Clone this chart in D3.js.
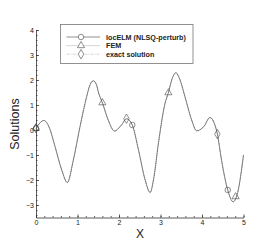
<!DOCTYPE html>
<html>
<head>
<meta charset="utf-8">
<script src="https://cdn.jsdelivr.net/npm/d3@7"></script>
<style>
  body { margin: 0; background: #fff; }
  svg text { font-family: "Liberation Sans", Arial, sans-serif; }
</style>
</head>
<body>
<div id="chart"></div>
<script>
// curve samples (x, solution value)
var xValues = [0, 0.19, 0.32, 0.46, 0.62, 0.755, 0.9, 1.06, 1.22, 1.3, 1.38, 1.46, 1.5, 1.6, 1.74, 1.89, 2.06, 2.18,
  2.32, 2.47, 2.63, 2.75, 2.84, 2.95, 3.11, 3.19, 3.28, 3.37, 3.46, 3.59, 3.75, 3.87, 4.05, 4.19, 4.3, 4.37, 4.47,
  4.62, 4.75, 4.86, 5.0];
var exactValues = [0.07, 0.38, 0.1, -0.67, -1.6, -2.1, -1.2, 0.13, 1.33, 1.8, 1.97, 1.8, 1.53, 1.09, 0.4, -0.04, 0.2, 0.45,
  0.2, -0.8, -2.0, -2.5, -1.9, -0.53, 1.07, 1.49, 2.05, 2.29, 2.05, 1.33, 0.4, -0.03, 0.15, 0.5, 0.25, -0.16, -1.2,
  -2.4, -2.87, -2.5, -1.0];
var locElmValues = exactValues.slice();
var femValues = exactValues.slice();

// where the markers sit along each series
var locElmMarkX = [0, 2.32, 4.62];
var femMarkX = [0, 1.6, 3.19, 4.81];
var exactMarkX = [0, 2.18, 4.37];

var xTicks = [0, 1, 2, 3, 4, 5];
var yTicks = [-3, -2, -1, 0, 1, 2, 3, 4];
var legendLabels = ["locELM (NLSQ-perturb)", "FEM", "exact solution"];

var svgWidth = 277;
var svgHeight = 246;

var svg = d3.select("#chart")
  .append("svg")
  .attr("width", svgWidth)
  .attr("height", svgHeight);

var xScale = d3.scaleLinear()
  .domain([0, 5])
  .range([36, 243.5]);

var yScale = d3.scaleLinear()
  .domain([-3.5, 4])
  .range([217.5, 30]);

// minor ticks first, then major ones
function minorTicks(lo, hi, step) {
  var t = [];
  for (var v = lo; v <= hi + 1e-9; v += step) t.push(+v.toFixed(2));
  return t;
}

svg.append("g")
  .attr("transform", "translate(0,217.5)")
  .call(d3.axisBottom(xScale).tickValues(minorTicks(0, 5, 0.2)).tickSizeInner(-1.5).tickSizeOuter(0).tickFormat(""))
  .call(g => g.select(".domain").remove());

svg.append("g")
  .attr("transform", "translate(36,0)")
  .call(d3.axisLeft(yScale).tickValues(minorTicks(-3.4, 4, 0.2)).tickSizeInner(-1.5).tickSizeOuter(0).tickFormat(""))
  .call(g => g.select(".domain").remove());

var xAxis = svg.append("g")
  .attr("transform", "translate(0,217.5)")
  .call(d3.axisBottom(xScale).tickValues(xTicks).tickSizeInner(-3).tickSizeOuter(0).tickPadding(3).tickFormat(d3.format("d")));

var yAxis = svg.append("g")
  .attr("transform", "translate(36,0)")
  .call(d3.axisLeft(yScale).tickValues(yTicks).tickSizeInner(-3).tickSizeOuter(0).tickPadding(2).tickFormat(d3.format("d")));

svg.selectAll(".tick text")
  .attr("font-size", 7)
  .attr("font-family", "Liberation Sans, Arial, sans-serif")
  .attr("fill", "#222");
svg.selectAll(".domain, .tick line")
  .attr("stroke", "#333")
  .attr("stroke-width", 0.8);

// curves
function series(values) {
  return xValues.map((x, i) => ({ x: x, y: values[i] }));
}
var line = d3.line()
  .x(d => xScale(d.x))
  .y(d => yScale(d.y))
  .curve(d3.curveMonotoneX);

var exactData = series(exactValues);
var femData = series(femValues);
var locData = series(locElmValues);

svg.append("path").datum(exactData).attr("d", line)
  .attr("fill", "none").attr("stroke", "#bbb").attr("stroke-width", 0.5).attr("stroke-dasharray", "3,1,1,1");
svg.append("path").datum(femData).attr("d", line)
  .attr("fill", "none").attr("stroke", "#777").attr("stroke-width", 0.5).attr("stroke-dasharray", "1,1");
svg.append("path").datum(locData).attr("d", line)
  .attr("fill", "none").attr("stroke", "#444").attr("stroke-width", 0.6);

// read a y value on the sampled curve
function valueAt(vals, x) {
  var i = d3.bisectLeft(xValues, x);
  if (i <= 0) return vals[0];
  if (i >= xValues.length) return vals[vals.length - 1];
  var t = (x - xValues[i - 1]) / (xValues[i] - xValues[i - 1]);
  return vals[i - 1] + t * (vals[i] - vals[i - 1]);
}

var circleSym = d3.symbol().type(d3.symbolCircle).size(24);
var triSym = d3.symbol().type(d3.symbolTriangle).size(22);
var diaSym = d3.symbol().type(d3.symbolDiamond).size(26);

function drawMarks(xs, vals, sym) {
  svg.append("g").selectAll("path")
    .data(xs)
    .enter()
    .append("path")
    .attr("d", sym)
    .attr("transform", d => `translate(${xScale(d)},${yScale(valueAt(vals, d))})`)
    .attr("fill", "none")
    .attr("stroke", "#444")
    .attr("stroke-width", 0.6);
}
drawMarks(exactMarkX, exactValues, diaSym);
drawMarks(femMarkX, femValues, triSym);
drawMarks(locElmMarkX, locElmValues, circleSym);

// legend
var legend = svg.append("g");
legend.append("rect")
  .attr("x", 60.5).attr("y", 24.5)
  .attr("width", 132.5).attr("height", 39)
  .attr("fill", "#fff").attr("stroke", "#777").attr("stroke-width", 0.8);

var legendSyms = [circleSym, triSym, diaSym];
var legendDash = [null, "1,1", "3,1,1,1"];
var legendStroke = ["#444", "#777", "#bbb"];
legendLabels.forEach(function(label, i) {
  var y = 37 + i * 8.6;
  legend.append("line")
    .attr("x1", 66.5).attr("x2", 100).attr("y1", y).attr("y2", y)
    .attr("stroke", legendStroke[i]).attr("stroke-width", 0.6)
    .attr("stroke-dasharray", legendDash[i]);
  legend.append("path")
    .attr("d", legendSyms[i])
    .attr("transform", `translate(81,${y})`)
    .attr("fill", "#fff").attr("stroke", "#444").attr("stroke-width", 0.6);
  legend.append("text")
    .attr("x", 106).attr("y", y + 2.5)
    .attr("font-size", 7.2).attr("font-weight", "bold").attr("fill", "#222")
    .text(label);
});

// axis titles
svg.append("text")
  .attr("x", 140).attr("y", 238)
  .attr("text-anchor", "middle")
  .attr("font-size", 12)
  .attr("fill", "#222")
  .text("X");

svg.append("text")
  .attr("transform", "translate(19,124) rotate(-90)")
  .attr("text-anchor", "middle")
  .attr("font-size", 12.5)
  .attr("fill", "#222")
  .text("Solutions");
</script>
</body>
</html>
